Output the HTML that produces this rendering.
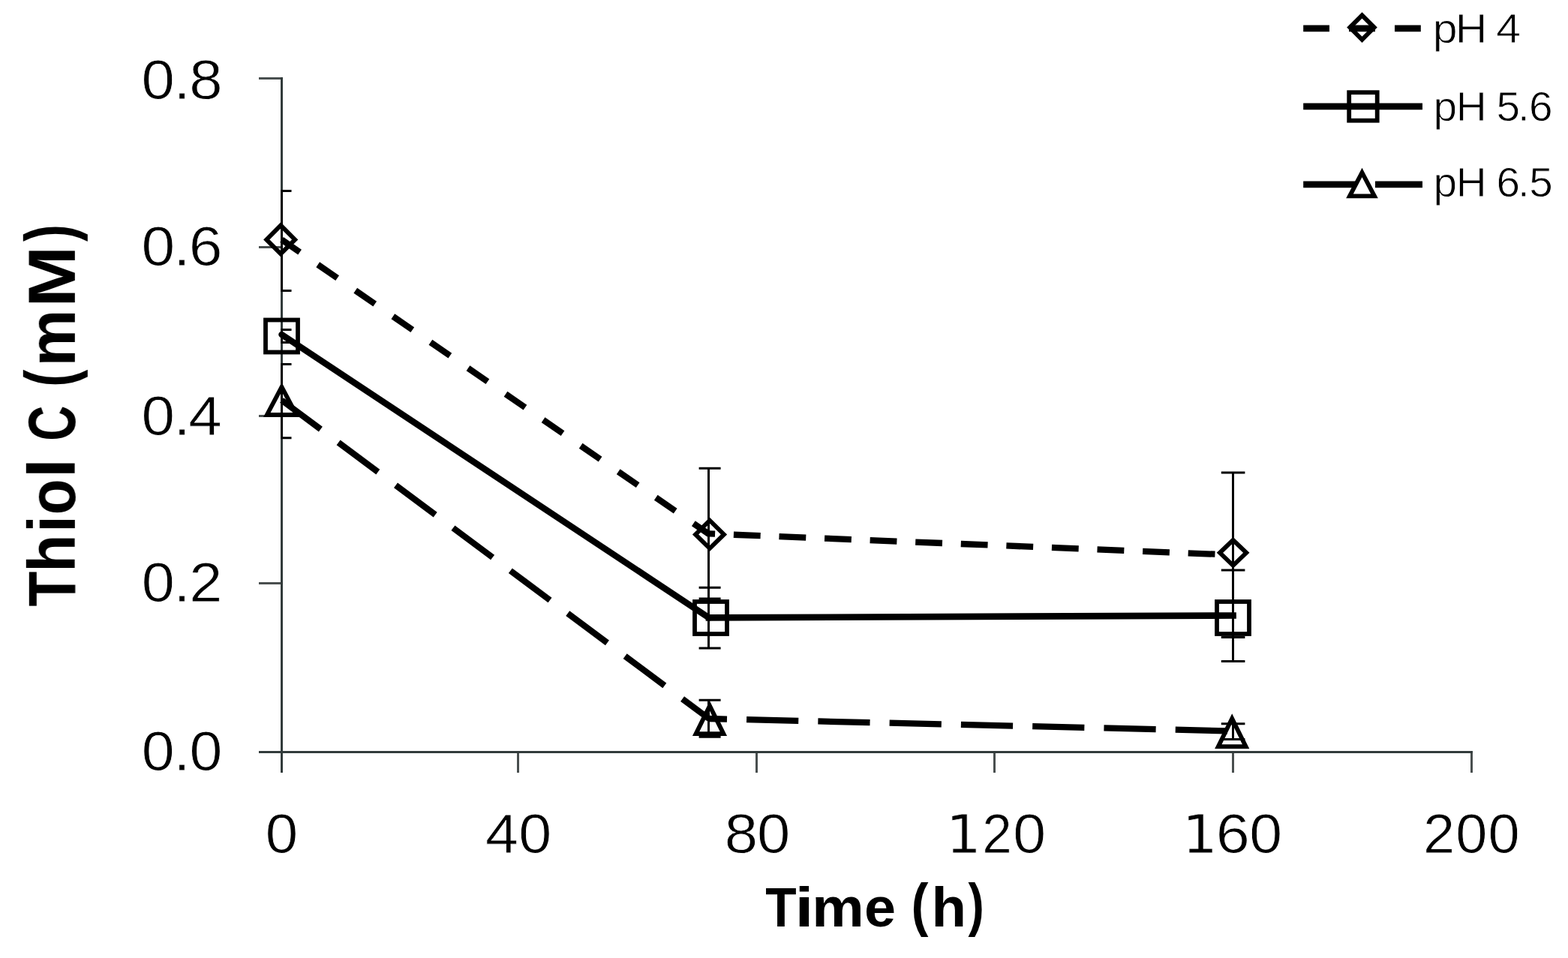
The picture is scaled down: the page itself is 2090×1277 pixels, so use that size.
<!DOCTYPE html>
<html lang="en"><head><meta charset="utf-8"><title>Thiol C (mM) vs Time (h)</title>
<style>html,body{margin:0;padding:0;background:#fff;}body{width:2090px;height:1277px;}svg{display:block;}text{font-family:"Liberation Sans",sans-serif;fill:#000;white-space:pre;}.b{font-weight:bold;}.d{font-family:"DejaVu Sans","Liberation Sans",sans-serif;}</style>
</head><body>
<svg width="2090" height="1277" viewBox="0 0 2090 1277">
<rect width="2090" height="1277" fill="#fff"/>
<defs><filter id="soft" x="0" y="0" width="100%" height="100%" filterUnits="userSpaceOnUse"><feGaussianBlur stdDeviation="0.45"/></filter></defs>
<g filter="url(#soft)">
<g stroke-width="3" fill="none" shape-rendering="crispEdges">
<path stroke="#4a4f4f" d="M345 104.5H376"/>
<path stroke="#4a4f4f" d="M345 329.5H376"/>
<path stroke="#4a4f4f" d="M345 554.5H376"/>
<path stroke="#4a4f4f" d="M345 777.5H376"/>
<path stroke="#4a4f4f" d="M690.5 1002V1030"/>
<path stroke="#4a4f4f" d="M1008.5 1002V1030"/>
<path stroke="#4a4f4f" d="M1325.5 1002V1030"/>
<path stroke="#4a4f4f" d="M1643.5 1002V1030"/>
<path stroke="#4a4f4f" d="M1961.5 1002V1030"/>
<path stroke="#333b3b" d="M375.5 103V1030"/>
<path stroke="#333b3b" d="M345 1002.5H1963"/>
</g>
<defs><clipPath id="plot"><rect x="374" y="0" width="1700" height="1004"/></clipPath></defs>
<g stroke="#000" stroke-width="3" fill="none" clip-path="url(#plot)">
<path d="M375.5 254.5V387.5M360.0 254.5H388.5M360.0 387.5H388.5"/>
<path d="M375.5 439.5V456.5M360.0 439.5H388.5M360.0 456.5H388.5"/>
<path d="M375.5 485.5V583.7M360.0 485.5H388.5M360.0 583.7H388.5"/>
<path d="M944.5 624.2V798.0M931.6 624.2H960.6M931.6 798.0H960.6"/>
<path d="M944.5 783.2V864.0M931.6 783.2H960.6M931.6 864.0H960.6"/>
<path d="M944.5 933.3V982.3M931.6 933.3H960.6M931.6 982.3H960.6"/>
<path d="M1643.5 630.0V849.4M1627.8 630.0H1659.4M1627.8 849.4H1659.4"/>
<path d="M1643.5 760.0V881.4M1627.8 760.0H1659.4M1627.8 881.4H1659.4"/>
<path d="M1643.5 964.7V985.4M1627.8 964.7H1659.4M1627.8 985.4H1659.4"/>
</g>
<g stroke="#000" fill="none">
<path d="M375.5 319.5L945.0 712.0" stroke-width="8.3" stroke-dasharray="31.5 29.3" stroke-dashoffset="2.25"/>
<path d="M945.0 711.4L1643.5 739.7" stroke-width="8.3" stroke-dasharray="35.8 24.83" stroke-dashoffset="27.71"/>
<path d="M375.5 446.0L945.0 823.5" stroke-width="8.5" stroke-linecap="round"/>
<path d="M945.0 823.4L1643.5 820.5" stroke-width="8.7" stroke-linecap="square"/>
<path d="M375.5 533.5L945.0 958.0" stroke-width="8.3" stroke-dasharray="65.7 29.6" stroke-dashoffset="1"/>
<path d="M945.0 958.0L1643.5 974.5" stroke-width="8.3" stroke-dasharray="69.2 26.1" stroke-dashoffset="45.2"/>
</g>
<g stroke="#000" stroke-width="5.8" fill="none" stroke-linejoin="miter">
<path d="M374.2 300.4L393.2 319.4L374.2 338.4L355.2 319.4Z"/>
<path d="M946.0 693.8L965.0 712.4L946.0 731.0L927.0 712.4Z"/>
<path d="M1643.6 719.8L1661.3 736.8L1643.6 753.8L1625.9 736.8Z"/>
<rect x="354.0" y="426.5" width="43.0" height="43.0"/>
<rect x="926.0" y="802.0" width="43.0" height="43.0"/>
<rect x="1622.0" y="802.0" width="43.0" height="43.0"/>
<path d="M375.5 515.8L395.2 553.0L355.8 553.0Z"/>
<path d="M946.0 940.9L964.4 978.1L927.6 978.1Z"/>
<path d="M1642.2 957.7L1660.6 995.1L1623.8 995.1Z"/>
</g>
<g stroke="#000" stroke-width="8.7" fill="none">
<path d="M1737.2 37.8H1896" stroke-dasharray="34.8 26.1"/>
<path d="M1737.2 141.8H1896"/>
<path d="M1737.2 245.9H1896" stroke-dasharray="69.7 26.1"/>
</g>
<g stroke="#000" stroke-width="5.8" fill="none" stroke-linejoin="miter">
<path d="M1815.5 20.4L1831.7 36.6L1815.5 52.8L1799.3 36.6Z"/>
<rect x="1798.2" y="123.2" width="37.5" height="37.5"/>
<path d="M1815.5 230.0L1832.0 261.3L1799.0 261.3Z"/>
</g>
<text stroke="#fff" stroke-width="0.8" transform="scale(1.0809 1)" x="174.51 214.15 233.37" y="132.3" font-size="73.73">0.8</text>
<text stroke="#fff" stroke-width="0.8" transform="scale(1.0899 1)" x="172.88 212.29 230.96" y="354.3" font-size="73.73">0.6</text>
<text stroke="#fff" stroke-width="0.8" transform="scale(1.0848 1)" x="173.79 213.33 231.56" y="579.6" font-size="73.73">0.4</text>
<text stroke="#fff" stroke-width="0.8" transform="scale(1.0751 1)" x="175.55 215.35 234.68" y="802.3" font-size="73.73">0.2</text>
<text stroke="#fff" stroke-width="0.8" transform="scale(1.0704 1)" x="176.41 216.34 235.8" y="1027.2" font-size="73.73">0.0</text>
<text stroke="#fff" stroke-width="0.8" transform="scale(1.0598 1)" x="333.75" y="1137.3" font-size="73.73">0</text>
<text stroke="#fff" stroke-width="0.8" transform="scale(1.0728 1)" x="603.15 644.27" y="1137.3" font-size="73.73">40</text>
<text stroke="#fff" stroke-width="0.8" transform="scale(1.0803 1)" x="893.91 933.94" y="1137.3" font-size="73.73">80</text>
<text stroke="#fff" stroke-width="0.8" y="1137.3" font-size="73.73"><title>120</title><tspan class="d" font-size="71.6" x="1260.84" textLength="47.2" lengthAdjust="spacingAndGlyphs">1</tspan><tspan x="1309.15" textLength="39.52" lengthAdjust="spacingAndGlyphs">2</tspan><tspan x="1350.22" textLength="43.86" lengthAdjust="spacingAndGlyphs">0</tspan></text>
<text stroke="#fff" stroke-width="0.8" y="1137.3" font-size="73.73"><title>160</title><tspan class="d" font-size="71.6" x="1575.84" textLength="47.2" lengthAdjust="spacingAndGlyphs">1</tspan><tspan x="1620.87" textLength="45" lengthAdjust="spacingAndGlyphs">6</tspan><tspan x="1665.22" textLength="43.86" lengthAdjust="spacingAndGlyphs">0</tspan></text>
<text stroke="#fff" stroke-width="0.8" transform="scale(1.0278 1)" x="1845.61 1887.89 1929.97" y="1137.3" font-size="73.73">200</text>
<text class="b" y="1234.7" font-size="75"><title>Time (h)</title><tspan x="1020.25" textLength="41.38" lengthAdjust="spacingAndGlyphs">T</tspan><tspan x="1059.62" textLength="24.94" lengthAdjust="spacingAndGlyphs">i</tspan><tspan x="1082.24" textLength="69.52" lengthAdjust="spacingAndGlyphs">m</tspan><tspan x="1151.95" textLength="42.03" lengthAdjust="spacingAndGlyphs">e</tspan><tspan x="1193.98"> </tspan><tspan font-size="78.4" x="1214.56" dy="-1.5" textLength="22.91" lengthAdjust="spacingAndGlyphs">(</tspan><tspan x="1241.57" dy="1.5" textLength="46.55" lengthAdjust="spacingAndGlyphs">h</tspan><tspan font-size="78.4" x="1290.54" dy="-1.5" textLength="21.26" lengthAdjust="spacingAndGlyphs">)</tspan></text>
<text class="b" transform="translate(99.8 0) rotate(-90)" y="0" font-size="89.7"><title>Thiol C (mM)</title><tspan x="-808.44" textLength="46.88" lengthAdjust="spacingAndGlyphs">T</tspan><tspan x="-762.86" textLength="50.24" lengthAdjust="spacingAndGlyphs">h</tspan><tspan x="-709.87" textLength="22.51" lengthAdjust="spacingAndGlyphs">i</tspan><tspan x="-686.15" textLength="47.79" lengthAdjust="spacingAndGlyphs">o</tspan><tspan x="-637.44" textLength="26.77" lengthAdjust="spacingAndGlyphs">l</tspan><tspan x="-610.68"> </tspan><tspan x="-587.68" textLength="47.15" lengthAdjust="spacingAndGlyphs">C</tspan><tspan x="-540.53"> </tspan><tspan font-size="92" x="-515.76" dy="-2.4" textLength="23.03" lengthAdjust="spacingAndGlyphs">(</tspan><tspan x="-488.44" dy="2.4" textLength="75.95" lengthAdjust="spacingAndGlyphs">m</tspan><tspan x="-409.69" textLength="81.99" lengthAdjust="spacingAndGlyphs">M</tspan><tspan font-size="92" x="-322.07" dy="-2.4" textLength="22.91" lengthAdjust="spacingAndGlyphs">)</tspan></text>
<text stroke="#fff" stroke-width="0.8" transform="scale(1.072 1)" x="1781.51 1809.59 1849.29 1860.2" y="56.9" font-size="54.96">pH 4</text>
<text stroke="#fff" stroke-width="0.8" transform="scale(1.0325 1)" x="1850.3 1879.61 1919.3 1931.62 1959.35 1973.74" y="160.8" font-size="54.96">pH 5.6</text>
<text stroke="#fff" stroke-width="0.8" transform="scale(1.0306 1)" x="1853.78 1883.15 1922.84 1935.24 1963.01 1977.84" y="261.9" font-size="54.96">pH 6.5</text>
</g>
</svg>
</body></html>
